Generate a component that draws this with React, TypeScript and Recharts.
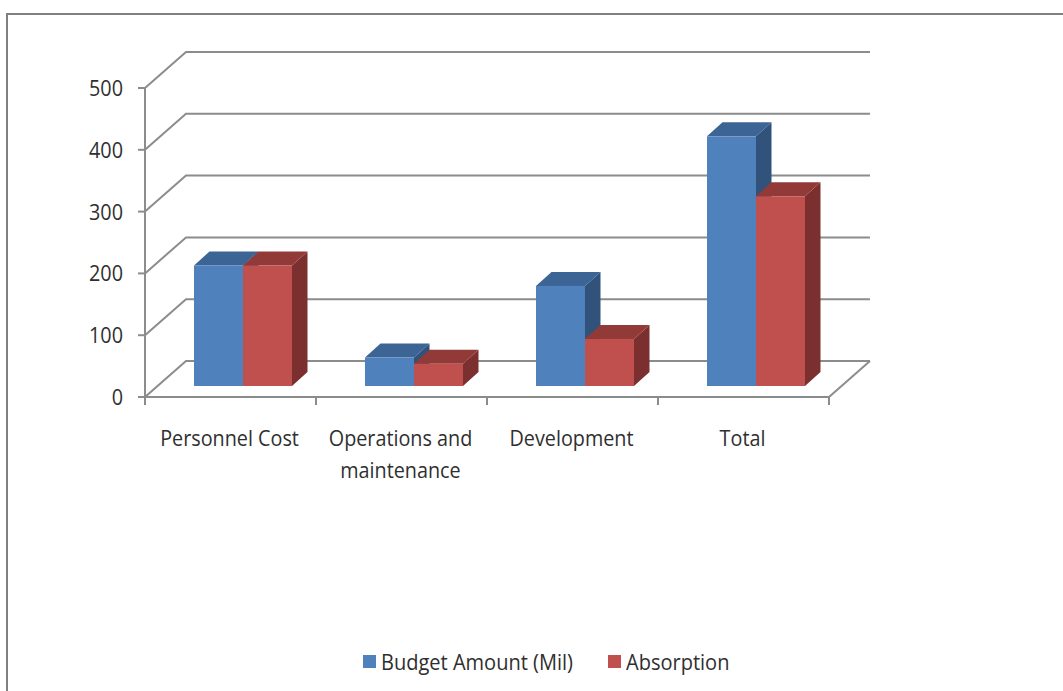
import React from "react";
import {
  Bar,
  BarChart,
  CartesianGrid,
  Legend,
  XAxis,
  YAxis,
} from "recharts";

const categories = ["Personnel Cost", "Operations and\nmaintenance", "Development", "Total"];
const budgetAmount = [195, 46, 162, 404];
const absorption = [195, 36, 76, 307];
const yTicks = [0, 100, 200, 300, 400, 500];

const chartData = categories.map((name, i) => ({
  name,
  budget: budgetAmount[i],
  absorption: absorption[i],
}));

const FONT = "'Open Sans', sans-serif";
const FONT_SIZE = 22;
const TEXT_SQUEEZE = 0.9; // reference text is a bit narrow for its height
const TEXT = "#2f2f2f";
const GRID = "#8c8c8c";
const LEGEND_H = 28;

// back wall sits this far behind the axis plane
const WALL_X = 41;
const WALL_Y = -36;
// bars stand partway into the floor
const BAR_X = 12;
const BAR_Y = -11;
const DEPTH_X = 15.5;
const DEPTH_Y = -14;

function Box3D(props: any, colors: { front: string; top: string; side: string }) {
  const x = props.x + BAR_X;
  const y = props.y + BAR_Y;
  const w = props.width;
  const h = props.height;
  const top = `${x},${y} ${x + DEPTH_X},${y + DEPTH_Y} ${x + w + DEPTH_X},${y + DEPTH_Y} ${x + w},${y}`;
  const side = `${x + w},${y} ${x + w + DEPTH_X},${y + DEPTH_Y} ${x + w + DEPTH_X},${y + h + DEPTH_Y} ${x + w},${y + h}`;
  return (
    <g>
      <polygon points={side} fill={colors.side} />
      <polygon points={top} fill={colors.top} />
      <rect x={x} y={y} width={w} height={h} fill={colors.front} />
    </g>
  );
}

// grid line runs up the side wall, then along the back wall
function WallLine(props: any) {
  const { x1, x2, y1 } = props;
  const bx = x1 + WALL_X;
  const by = y1 + WALL_Y;
  const isFloor = y1 > 390;
  return (
    <g>
      <polyline
        points={`${x1},${y1} ${bx},${by} ${x2 + WALL_X},${by}`}
        fill="none"
        stroke={GRID}
        strokeWidth={2}
      />
      {isFloor && (
        <line x1={x2} y1={y1} x2={x2 + WALL_X} y2={by} stroke={GRID} strokeWidth={2} />
      )}
    </g>
  );
}

function SqueezedText({ x, y, anchor, children }: any) {
  return (
    <text
      transform={`translate(${x},${y}) scale(${TEXT_SQUEEZE},1)`}
      textAnchor={anchor}
      fontFamily={FONT}
      fontSize={FONT_SIZE}
      fill={TEXT}
    >
      {children}
    </text>
  );
}

function CategoryTick(props: any) {
  const { x, payload, index } = props;
  const band = 684 / categories.length;
  const lines = String(payload.value).split("\n");
  const left = x - band / 2;
  return (
    <g>
      <line x1={left} y1={397} x2={left} y2={405} stroke={GRID} strokeWidth={2} />
      {index === categories.length - 1 && (
        <line x1={left + band} y1={397} x2={left + band} y2={405} stroke={GRID} strokeWidth={2} />
      )}
      {lines.map((line: string, i: number) => (
        <SqueezedText key={line} x={x - 1} y={446 + i * 32} anchor="middle">
          {line}
        </SqueezedText>
      ))}
    </g>
  );
}

function ValueTick(props: any) {
  const { y, payload } = props;
  return (
    <SqueezedText x={123} y={y + 8} anchor="end">
      {payload.value}
    </SqueezedText>
  );
}

function LegendRow({ payload }: any) {
  return (
    <div
      style={{
        display: "flex",
        alignItems: "center",
        fontFamily: FONT,
        fontSize: FONT_SIZE,
        color: TEXT,
        lineHeight: `${LEGEND_H}px`,
      }}
    >
      {(payload || []).map((entry: any, i: number) => (
        <span
          key={entry.value}
          style={{ display: "flex", alignItems: "center", marginRight: i === 0 ? 16 : 0 }}
        >
          <span
            style={{
              width: 13,
              height: 13,
              background: entry.color,
              marginRight: 5,
              display: "inline-block",
            }}
          />
          <span style={{ display: "inline-block", transform: "scaleX(0.91)", transformOrigin: "left" }}>
            {entry.value}
          </span>
        </span>
      ))}
    </div>
  );
}

export default function App() {
  return (
    <div
      style={{
        position: "absolute",
        left: 0,
        top: 0,
        width: 1063,
        height: 691,
        overflow: "hidden",
        background: "#fff",
      }}
    >
      <div
        style={{
          position: "absolute",
          left: 6,
          top: 13,
          width: 1060,
          height: 680,
          borderTop: "2px solid #808080",
          borderLeft: "2px solid #808080",
        }}
      />
      <BarChart
        width={1063}
        height={691}
        data={chartData}
        margin={{ top: 88, right: 234, bottom: 0, left: 0 }}
        barSize={49}
        barGap={0}
        style={{ position: "absolute", left: 0, top: 0 }}
      >
        <CartesianGrid vertical={false} horizontal={(p: any) => <WallLine {...p} />} />
        <XAxis
          dataKey="name"
          interval={0}
          axisLine={{ stroke: GRID, strokeWidth: 2 }}
          tickLine={false}
          tick={(p: any) => <CategoryTick {...p} />}
          height={294 - LEGEND_H}
        />
        <YAxis
          domain={[0, 500]}
          ticks={yTicks}
          width={145}
          axisLine={{ stroke: GRID, strokeWidth: 2 }}
          tickLine={{ stroke: GRID, strokeWidth: 2 }}
          tickSize={7}
          tick={(p: any) => <ValueTick {...p} />}
        />
        <Legend
          content={<LegendRow />}
          itemSorter={null}
          wrapperStyle={{ position: "absolute", left: 363, top: 647, width: "auto", bottom: "auto" }}
        />
        <Bar
          dataKey="budget"
          name="Budget Amount (Mil)"
          fill="#4F81BD"
          isAnimationActive={false}
          shape={(p: any) => Box3D(p, { front: "#4F81BD", top: "#3C6494", side: "#31527B" })}
        />
        <Bar
          dataKey="absorption"
          name="Absorption"
          fill="#C0504D"
          isAnimationActive={false}
          shape={(p: any) => Box3D(p, { front: "#C0504D", top: "#923A38", side: "#7B302F" })}
        />
      </BarChart>
    </div>
  );
}
